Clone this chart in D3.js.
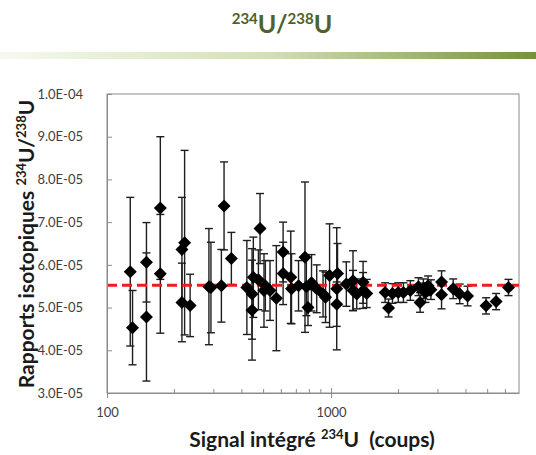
<!DOCTYPE html>
<html>
<head>
<meta charset="utf-8">
<script src="https://cdnjs.cloudflare.com/ajax/libs/d3/7.8.5/d3.min.js"></script>
<style>
  body { margin: 0; background: #fff; }
  svg { display: block; font-family: Lato, "Open Sans", sans-serif; }
</style>
</head>
<body>
<div class="chart"></div>
<script>
// signal integre 234U (coups)
var signal = [127, 130, 150, 150, 173, 173, 216, 222, 216, 235,
  285, 291, 324, 333, 359, 421, 444, 450, 444, 482,
  474, 502, 509, 534, 570, 611, 611, 661, 666, 716,
  765, 776, 789, 818, 863, 921, 945, 985, 1069, 1060,
  1060, 1170, 1253, 1253, 1390, 1390, 1302, 1443, 1743, 1806,
  1880, 1995, 2104, 2260, 2455, 2496, 2583, 2640, 2710, 2790,
  3113, 3113, 3508, 3750, 4067, 4920, 5454, 6194];

// rapport 234U/238U, en unites de 1E-05
var ratio = [5.84, 4.53, 6.06, 4.78, 7.33, 5.79, 6.36, 6.52, 5.12, 5.05,
  5.49, 5.47, 5.51, 7.38, 6.15, 5.47, 4.94, 5.71, 5.32, 6.85,
  5.65, 5.40, 5.51, 5.40, 5.22, 6.30, 5.80, 5.71, 5.44, 5.51,
  6.18, 5.49, 5.00, 5.58, 5.44, 5.32, 5.24, 5.75, 5.80, 5.44,
  5.08, 5.55, 5.63, 5.40, 5.59, 5.40, 5.32, 5.33, 5.35, 4.99,
  5.33, 5.35, 5.35, 5.40, 5.49, 5.12, 5.44, 5.35, 5.51, 5.42,
  5.60, 5.30, 5.44, 5.32, 5.27, 5.04, 5.14, 5.47];

// incertitude (+/-), en unites de 1E-05
var err = [1.74, 0.87, 0.93, 1.50, 1.67, 1.39, 1.22, 2.16, 0.92, 0.73,
  1.36, 1.06, 0.85, 1.03, 0.61, 1.10, 1.17, 0.94, 1.06, 0.82,
  0.70, 0.86, 0.59, 0.70, 1.23, 0.70, 0.73, 1.08, 0.82, 0.59,
  1.76, 0.68, 0.42, 0.66, 0.56, 0.54, 0.59, 1.21, 0.70, 1.43,
  0.52, 0.52, 0.70, 0.47, 0.49, 0.42, 0.35, 0.33, 0.23, 0.21,
  0.23, 0.23, 0.23, 0.23, 0.21, 0.23, 0.23, 0.23, 0.23, 0.23,
  0.26, 0.33, 0.23, 0.23, 0.23, 0.19, 0.19, 0.19];

var meanRatio = 5.52;   // ligne rouge
var yTicks = [3, 4, 5, 6, 7, 8, 9, 10];
var xLabels = [100, 1000];
var xMinor = [200, 300, 400, 500, 600, 700, 800, 900, 2000, 3000, 4000, 5000, 6000];

function draw() {
  "use strict";

  var data = signal.map(function(s, i) {
    return {x: s, y: ratio[i] * 1e-5, e: err[i] * 1e-5};
  });

  var width = 536, height = 455;
  var pLeft = 107, pRight = 519, pTop = 94, pBottom = 393;

  var svg = d3.select('.chart').append('svg')
      .attr('width', width)
      .attr('height', height);

  // titre + bandeau vert
  var defs = svg.append('defs');
  var grad = defs.append('linearGradient').attr('id', 'band');
  grad.append('stop').attr('offset', '0%').attr('stop-color', '#f7f9f0');
  grad.append('stop').attr('offset', '50%').attr('stop-color', '#d3e0b4');
  grad.append('stop').attr('offset', '100%').attr('stop-color', '#76913e');
  svg.append('rect')
      .attr('x', 0).attr('y', 52).attr('width', width).attr('height', 7)
      .attr('fill', 'url(#band)');

  var title = svg.append('text')
      .attr('x', 282).attr('y', 33)
      .attr('text-anchor', 'middle')
      .attr('fill', '#4f6228')
      .attr('font-weight', 'bold')
      .attr('font-size', 25);
  title.append('tspan').attr('font-size', 15).attr('dy', -9).text('234');
  title.append('tspan').attr('dy', 9).text('U/');
  title.append('tspan').attr('font-size', 15).attr('dy', -9).text('238');
  title.append('tspan').attr('dy', 9).text('U');

  var x = d3.scaleLog().domain([100, 6900]).range([pLeft, pRight]);
  var y = d3.scaleLinear().domain([3e-5, 1e-4]).range([pBottom, pTop]);

  function fmt(v) {
    var s = v.toExponential(1).toUpperCase();
    return s.replace(/E([+-])(\d)$/, 'E$10$2');
  }

  var plot = svg.append('g');

  // cadre
  plot.append('rect')
      .attr('x', pLeft).attr('y', pTop)
      .attr('width', pRight - pLeft).attr('height', pBottom - pTop)
      .attr('fill', 'none')
      .attr('stroke', '#8c8c8c')
      .attr('stroke-width', 1);

  // axe y
  var yAxis = svg.append('g')
      .attr('transform', 'translate(' + pLeft + ',0)')
      .call(d3.axisLeft(y).tickValues(yTicks.map(function(t) { return t * 1e-5; }))
        .tickFormat(fmt).tickSizeInner(-5).tickSizeOuter(0).tickPadding(24));
  yAxis.select('.domain').attr('stroke', '#8c8c8c');
  yAxis.selectAll('.tick line').attr('stroke', '#8c8c8c');
  yAxis.selectAll('.tick text')
      .attr('font-size', 13)
      .attr('fill', '#404040')
      .attr('font-family', 'Lato, sans-serif');

  // axe x
  var xAxis = svg.append('g')
      .attr('transform', 'translate(0,' + pBottom + ')')
      .call(d3.axisBottom(x).tickValues(xLabels).tickFormat(d3.format('d'))
        .tickSizeInner(5).tickSizeOuter(0).tickPadding(10));
  xAxis.select('.domain').attr('stroke', '#8c8c8c');
  xAxis.selectAll('.tick line').attr('stroke', '#8c8c8c').attr('y1', -5);
  xAxis.selectAll('.tick text')
      .attr('font-size', 13)
      .attr('fill', '#404040')
      .attr('font-family', 'Lato, sans-serif');

  xAxis.selectAll('.minor')
      .data(xMinor)
      .enter().append('line')
      .attr('class', 'minor')
      .attr('x1', function(d) { return x(d); })
      .attr('x2', function(d) { return x(d); })
      .attr('y1', 0).attr('y2', -4)
      .attr('stroke', '#8c8c8c');

  // titres des axes
  var xt = svg.append('text')
      .attr('x', 312).attr('y', 447)
      .attr('text-anchor', 'middle')
      .attr('font-weight', 'bold')
      .attr('font-size', 21)
      .attr('fill', '#1a1a1a');
  xt.append('tspan').text('Signal intégré ');
  xt.append('tspan').attr('font-size', 13).attr('dy', -8).text('234');
  xt.append('tspan').attr('dy', 8).text('U\u00a0 (coups)');

  var yt = svg.append('text')
      .attr('transform', 'translate(34,244) rotate(-90)')
      .attr('text-anchor', 'middle')
      .attr('font-weight', 'bold')
      .attr('font-size', 21)
      .attr('fill', '#1a1a1a');
  yt.append('tspan').text('Rapports isotopiques ');
  yt.append('tspan').attr('font-size', 13).attr('dy', -8).text('234');
  yt.append('tspan').attr('dy', 8).text('U/');
  yt.append('tspan').attr('font-size', 13).attr('dy', -8).text('238');
  yt.append('tspan').attr('dy', 8).text('U');

  // barres d'erreur
  var bars = plot.append('g').attr('class', 'errbars')
      .attr('stroke', '#1e1e1e')
      .attr('stroke-width', 1.4);

  bars.selectAll('.v')
      .data(data)
      .enter().append('line')
      .attr('x1', function(d) { return x(d.x); })
      .attr('x2', function(d) { return x(d.x); })
      .attr('y1', function(d) { return y(d.y + d.e); })
      .attr('y2', function(d) { return y(d.y - d.e); });

  ['top', 'bot'].forEach(function(side) {
    bars.selectAll('.cap-' + side)
        .data(data)
        .enter().append('line')
        .attr('x1', function(d) { return x(d.x) - 4; })
        .attr('x2', function(d) { return x(d.x) + 4; })
        .attr('y1', function(d) { return y(side == 'top' ? d.y + d.e : d.y - d.e); })
        .attr('y2', function(d) { return y(side == 'top' ? d.y + d.e : d.y - d.e); });
  });

  // ligne moyenne
  plot.append('line')
      .attr('x1', pLeft).attr('x2', pRight)
      .attr('y1', y(meanRatio * 1e-5)).attr('y2', y(meanRatio * 1e-5))
      .attr('stroke', '#ee1c1c')
      .attr('stroke-width', 3)
      .attr('stroke-dasharray', '10,5');

  // points (losanges)
  plot.append('g')
      .selectAll('path')
      .data(data)
      .enter().append('path')
      .attr('d', 'M0,-6.5L6.5,0L0,6.5L-6.5,0Z')
      .attr('transform', function(d) { return 'translate(' + x(d.x) + ',' + y(d.y) + ')'; })
      .attr('fill', '#000');
}

draw();
</script>
</body>
</html>
